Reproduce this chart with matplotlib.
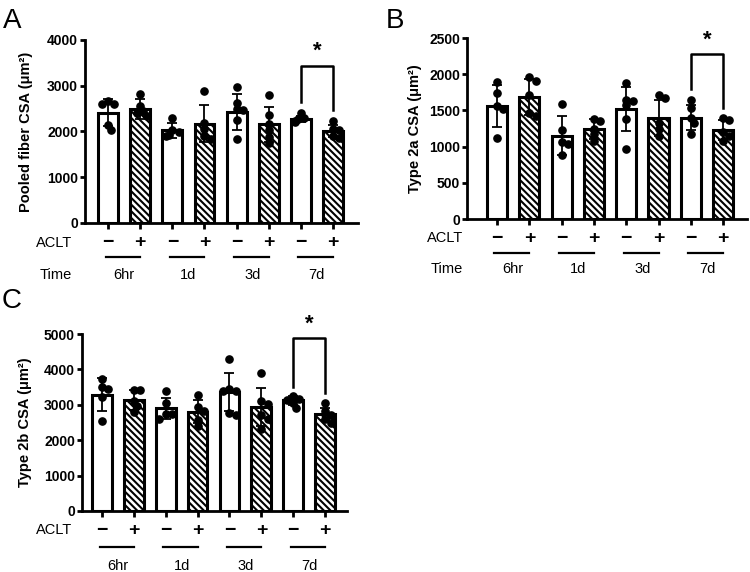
import matplotlib
matplotlib.use("Agg")
import matplotlib.pyplot as plt
import matplotlib.transforms as mtransforms
import numpy as np

plt.rcParams['font.family'] = ['Liberation Sans', 'DejaVu Sans']
plt.rcParams['hatch.linewidth'] = 1.5

times = ["6hr", "1d", "3d", "7d"]
aclt = ["\u2212", "+"] * 4

# panel A - pooled fiber CSA
pooled_mean = [2410, 2500, 2030, 2170, 2430, 2160, 2270, 2010]
pooled_sd = [295, 220, 165, 405, 395, 380, 65, 130]
pooled_pts = [
    [2610, 2660, 2610, 2140, 2030],
    [2810, 2560, 2450, 2400, 2330],
    [2290, 2040, 1990, 1930, 1900],
    [2880, 2180, 2050, 1900, 1840],
    [2970, 2620, 2490, 2480, 2260, 1840],
    [2790, 2350, 2170, 2030, 1880, 1740],
    [2400, 2290, 2270, 2220, 2200],
    [2220, 2060, 2040, 1900, 1850],
]

# panel B - type 2a CSA
t2a_mean = [1560, 1690, 1150, 1240, 1520, 1400, 1400, 1230]
t2a_sd = [285, 250, 270, 140, 300, 250, 175, 140]
t2a_pts = [
    [1890, 1740, 1560, 1520, 1120],
    [1960, 1910, 1710, 1470, 1420],
    [1590, 1230, 1060, 1040, 880],
    [1380, 1355, 1250, 1170, 1080],
    [1880, 1650, 1630, 1570, 1380, 960],
    [1710, 1670, 1330, 1240, 1140],
    [1650, 1530, 1400, 1330, 1180],
    [1400, 1370, 1200, 1140, 1080],
]

# panel C - type 2b CSA
t2b_mean = [3290, 3140, 2900, 2810, 3370, 2940, 3130, 2730]
t2b_sd = [460, 280, 300, 320, 540, 540, 130, 170]
t2b_pts = [
    [3720, 3510, 3460, 3230, 2550],
    [3430, 3420, 3100, 2960, 2800],
    [3390, 3040, 2740, 2730, 2610],
    [3280, 2930, 2830, 2580, 2400],
    [4290, 3460, 3390, 3390, 2760, 2710],
    [3910, 3100, 3010, 2700, 2610, 2330],
    [3250, 3160, 3130, 3040, 2900],
    [3040, 2830, 2720, 2600, 2500],
]

# bracket: (top, left leg end, right leg end)
pooled_sig = (3440, 2650, 2460)
t2a_sig = (2280, 1800, 1540)
t2b_sig = (4880, 3510, 3320)

fig = plt.figure(figsize=(7.5, 5.72), dpi=100)
W, H = 750, 572


def swarm_x(ax, xc, vals, diam=7.0):
    # simple beeswarm in pixel space, dots may overlap a bit
    placed = []
    xs = []
    for v in vals:
        px0, py = ax.transData.transform((xc, v))
        for k in [0, 1, -1, 2, -2]:
            px = px0 + k * diam * 0.45
            ok = all((px - qx) ** 2 + (py - qy) ** 2 >= (diam * 0.8) ** 2 for qx, qy in placed)
            if ok:
                break
        placed.append((px, py))
        xs.append(ax.transData.inverted().transform((px, py))[0])
    return xs


def panel(rect_px, xlim, ymax, ystep, means, sds, pts, sig, ylabel, label_x,
          show_time, rows_px, label_right_px):
    x0, y0, x1, y1 = rect_px
    ax = fig.add_axes([x0 / W, 1 - y1 / H, (x1 - x0) / W, (y1 - y0) / H])
    ax.set_xlim(*xlim)
    ax.set_ylim(0, ymax)
    hpx = y1 - y0
    xs = np.arange(8)
    for i in xs:
        hatch = '\\\\\\\\\\' if i % 2 else None
        ax.bar(i, means[i], width=0.62, facecolor='white', edgecolor='black',
               linewidth=2.2, hatch=hatch, zorder=2)
    for i in xs:
        vals = sorted(pts[i], reverse=True)
        px = swarm_x(ax, i, vals)
        ax.plot(px, vals, 'o', color='black', ms=5.2, zorder=3, clip_on=False)
    ax.errorbar(xs, means, yerr=sds, fmt='none', ecolor='black', elinewidth=1.3,
                capsize=3.3, capthick=1.3, zorder=4)
    # significance bracket between the 7d bars
    top, ly, ry = sig
    ax.plot([6, 6, 7, 7], [ly, top, top, ry], color='black', lw=1.8, clip_on=False, zorder=5)
    ax.text(6.5, top + ymax * 0.02, "*", ha='center', va='bottom', fontsize=16,
            fontweight='bold')

    for s in ['top', 'right']:
        ax.spines[s].set_visible(False)
    for s in ['left', 'bottom']:
        ax.spines[s].set_linewidth(2.0)
    ax.set_yticks(np.arange(0, ymax + 1, ystep))
    ax.tick_params(axis='y', length=3.6, width=2.0, labelsize=10, pad=1.5)
    ax.tick_params(axis='x', length=4.3, width=2.0, labelbottom=False)
    ax.set_xticks(xs)
    for t in ax.get_yticklabels():
        t.set_fontweight('bold')
    ax.set_ylabel(ylabel, fontsize=10.5, fontweight='bold')
    ax.yaxis.set_label_coords((label_x - x0) / (x1 - x0), 0.5)

    trans = mtransforms.blended_transform_factory(ax.transData, ax.transAxes)
    aclt_y, line_y, time_y = [(y1 - r) / hpx for r in rows_px]
    for i in xs:
        ax.text(i, aclt_y, aclt[i], transform=trans, ha='center', va='center',
                fontsize=14, fontweight='bold')
    for g in range(4):
        ax.plot([2 * g - 0.08, 2 * g + 1.0], [line_y, line_y], transform=trans,
                color='black', lw=1.6, clip_on=False)
        ax.text(2 * g + 0.5, time_y, times[g], transform=trans, ha='center',
                va='center', fontsize=10.5)
    rx = (label_right_px - x0) / (x1 - x0)
    ax.text(rx, aclt_y, "ACLT", transform=ax.transAxes, ha='right', va='center', fontsize=10.5)
    if show_time:
        ax.text(rx, time_y, "Time", transform=ax.transAxes, ha='right', va='center', fontsize=10.5)
    return ax


panel((85, 40, 358, 223), (-0.72, 7.78), 4000, 1000, pooled_mean, pooled_sd, pooled_pts,
      pooled_sig, "Pooled fiber CSA (\u03bcm\u00b2)", 33, True, (243, 257, 275), 72)
panel((467, 38, 747, 219), (-0.93, 7.74), 2500, 500, t2a_mean, t2a_sd, t2a_pts,
      t2a_sig, "Type 2a CSA (\u03bcm\u00b2)", 422, True, (238, 253, 269), 463)
panel((82, 334, 347, 511), (-0.63, 7.69), 5000, 1000, t2b_mean, t2b_sd, t2b_pts,
      t2b_sig, "Type 2b CSA (\u03bcm\u00b2)", 32, False, (530, 547, 566), 72)

fig.text(3 / W, 1 - 28 / H, "A", fontsize=20, va='baseline')
fig.text(386 / W, 1 - 28 / H, "B", fontsize=20, va='baseline')
fig.text(2 / W, 1 - 308 / H, "C", fontsize=20, va='baseline')

fig.savefig("out.png", dpi=100, facecolor='white')
